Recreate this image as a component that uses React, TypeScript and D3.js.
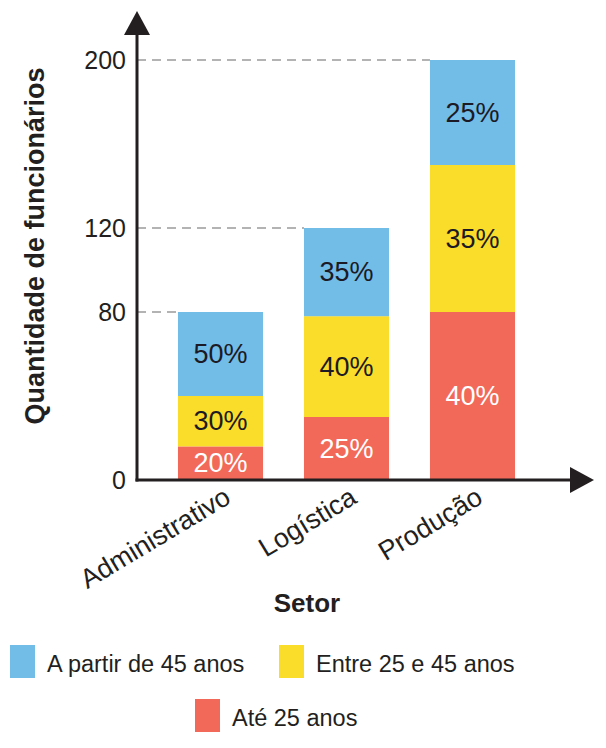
import React from "react";
import * as d3 from "d3";

const sectors = ["Administrativo", "Logística", "Produção"];
const totals = [80, 120, 200];
const under25 = [20, 25, 40];
const between25and45 = [30, 40, 35];
const over45 = [50, 35, 25];
const yTicks = [0, 80, 120, 200];
const seriesNames = ["Até 25 anos", "Entre 25 e 45 anos", "A partir de 45 anos"];
const seriesColors = ["#f2695a", "#fadd2a", "#72bce8"];
const labelColors = ["#ffffff", "#1c1a24", "#1c1a24"];

const W = 606;
const H = 748;
const x0 = 137;
const yBase = 480;
const font = "Liberation Sans, Arial, Helvetica, sans-serif";

export default function App() {
  const y = d3.scaleLinear().domain([0, 200]).range([yBase, 60]);
  const x = d3.scaleBand().domain(sectors).range([157.5, 535.5]).paddingInner(0.325).paddingOuter(0.1625);

  const pcts = [under25, between25and45, over45];
  const stackData = sectors.map((s, i) => ({
    sector: s,
    s0: (totals[i] * pcts[0][i]) / 100,
    s1: (totals[i] * pcts[1][i]) / 100,
    s2: (totals[i] * pcts[2][i]) / 100,
  }));
  const stack = d3.stack<any>().keys(["s0", "s1", "s2"]);
  const layers = stack(stackData);

  return (
    <svg width={W} height={H} style={{ position: "absolute", left: 0, top: 0, background: "#fff" }}>
      {/* dashed reference lines from the axis to each bar top */}
      {totals.map((t, i) => (
        <line key={"g" + i} x1={x0} x2={x(sectors[i])!} y1={y(t)} y2={y(t)}
          stroke="#9a9a9a" strokeWidth={1.3} strokeDasharray="9,6" />
      ))}
      {layers.map((layer, li) =>
        layer.map((d, i) => (
          <g key={`b${li}-${i}`}>
            <rect x={x(sectors[i])!} width={x.bandwidth()} y={y(d[1])} height={y(d[0]) - y(d[1])}
              fill={seriesColors[li]} />
            <text x={x(sectors[i])! + x.bandwidth() / 2} y={(y(d[0]) + y(d[1])) / 2}
              textAnchor="middle" dominantBaseline="central" fontFamily={font} fontSize={27}
              fill={labelColors[li]}>{pcts[li][i]}%</text>
          </g>
        ))
      )}
      {/* axes */}
      <line x1={x0} x2={x0} y1={yBase + 1.5} y2={30} stroke="#231f20" strokeWidth={3} />
      <line x1={x0 - 1.5} x2={575} y1={yBase} y2={yBase} stroke="#231f20" strokeWidth={3} />
      <path d={`M${x0 - 13},35 L${x0 + 13},35 L${x0},11 Z`} fill="#231f20" />
      <path d={`M570,${yBase - 13} L570,${yBase + 13} L594,${yBase} Z`} fill="#231f20" />
      {yTicks.map((t) => (
        <text key={"t" + t} x={126} y={y(t)} textAnchor="end" dominantBaseline="central"
          fontFamily={font} fontSize={25} fill="#231f20">{t}</text>
      ))}
      {sectors.map((s) => (
        <text key={"x" + s} transform={`translate(${x(s)! + x.bandwidth() / 2 + 12},${yBase + 22}) rotate(-31)`}
          textAnchor="end" fontFamily={font} fontSize={27} fill="#231f20">{s}</text>
      ))}
      <text x={307} y={612} textAnchor="middle" fontFamily={font} fontWeight="bold" fontSize={26} fill="#231f20">Setor</text>
      <text transform={`translate(44,246) rotate(-90)`} textAnchor="middle" fontFamily={font}
        fontWeight="bold" fontSize={27} fill="#231f20">Quantidade de funcionários</text>
      {/* legend */}
      <rect x={10} y={645} width={25} height={33} fill={seriesColors[2]} />
      <text x={47} y={672} fontFamily={font} fontSize={23.5} fill="#231f20">{seriesNames[2]}</text>
      <rect x={279} y={645} width={25} height={33} fill={seriesColors[1]} />
      <text x={316} y={672} fontFamily={font} fontSize={23.5} fill="#231f20">{seriesNames[1]}</text>
      <rect x={195} y={699} width={25} height={33} fill={seriesColors[0]} />
      <text x={232} y={726} fontFamily={font} fontSize={23.5} fill="#231f20">{seriesNames[0]}</text>
    </svg>
  );
}
